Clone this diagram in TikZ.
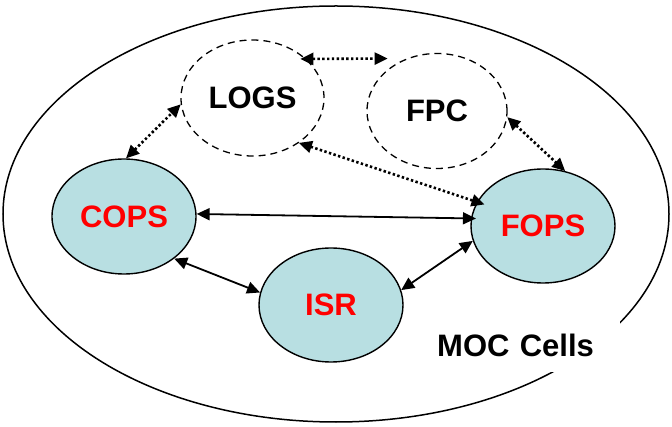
\documentclass[tikz,border=0pt]{standalone}
\usepackage{fontspec}
\setmainfont{Liberation Sans}
\usetikzlibrary{shapes.geometric,arrows.meta}
\definecolor{cellfill}{RGB}{184,223,226}
\begin{document}
\begin{tikzpicture}[x=1pt,y=-1pt,
  lbl/.style={font=\fontsize{31}{36}\selectfont\bfseries},
  cell/.style={ellipse,draw=black,line width=1.4pt,fill=cellfill,inner sep=0pt,
    minimum width=144pt,minimum height=115pt,lbl,text=red},
  ghost/.style={ellipse,draw=black,line width=1.3pt,dash pattern=on 7pt off 5pt,
    inner sep=0pt,minimum width=143pt,minimum height=116pt,lbl},
  both/.style={{Triangle[length=13pt,width=12pt]}-{Triangle[length=13pt,width=12pt]}},
  solidlink/.style={both,line width=1.8pt},
  dotlink/.style={both,line width=2.6pt,dash pattern=on 2.4pt off 2.4pt}]
\useasboundingbox (0,0) rectangle (672,427);
\draw[line width=1.5pt] (336,214) ellipse [x radius=333, y radius=208];
\node (moc) [lbl,fill=white,inner sep=0pt,anchor=west,minimum height=54pt,
  text width=192pt,align=left] at (428,345) {\hspace*{9pt}MOC Cells};
\node (logs) [ghost] at (252.5,98) {LOGS};
\node (fpc) [ghost,minimum width=140pt,minimum height=115pt] at (437,111) {FPC};
\node (cops) [cell] at (124,216.5) {COPS};
\node (isr) [cell,minimum height=114pt] at (331,305) {ISR};
\node (fops) [cell,minimum height=114pt] at (543,226) {FOPS};
\draw[dotlink,shorten <=-6pt,shorten >=19pt] (logs.36) -- (fpc.120);
\draw[dotlink] (cops.88) -- (logs.185);
\draw[dotlink,shorten >=-8pt] (logs.316) -- (fops.160);
\draw[dotlink] (fpc.355) -- (fops.68);
\draw[solidlink,shorten >=-5pt] (cops.2) -- (fops.174);
\draw[solidlink] (cops.320) -- (isr.170);
\draw[solidlink] (isr.12) -- (fops.192);
\end{tikzpicture}
\end{document}
